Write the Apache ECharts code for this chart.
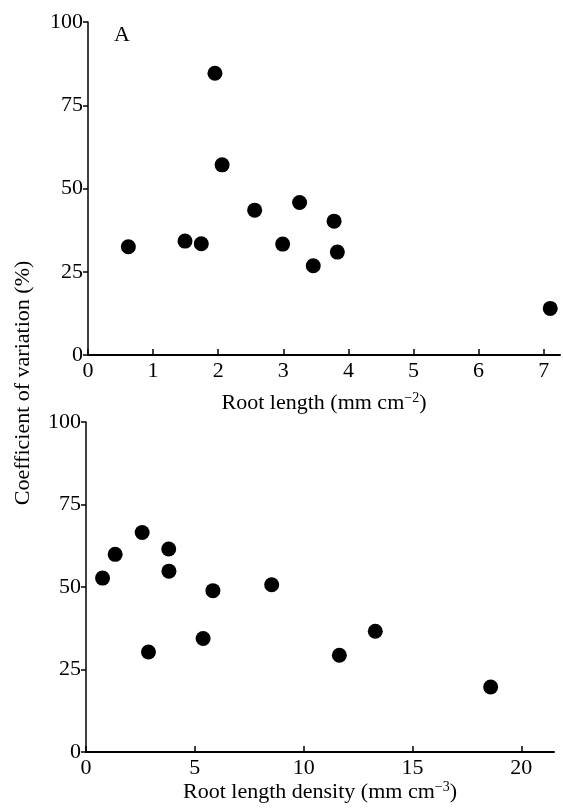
<!DOCTYPE html>
<html>
<head>
<meta charset="utf-8">
<script src="https://cdn.jsdelivr.net/npm/echarts@6/dist/echarts.min.js"></script>
<style>
  html, body { margin: 0; padding: 0; background: #fff; }
  #chart { width: 563px; height: 809px; }
</style>
</head>
<body>
<div id="chart"></div>
<script>
// panel A: root length (mm cm-2) vs coefficient of variation (%)
const rootLength = [0.62, 1.49, 1.74, 1.95, 2.06, 2.56, 2.99, 3.25, 3.46, 3.78, 3.83, 7.10]
const cvLength = [32.5, 34.2, 33.4, 84.6, 57.1, 43.5, 33.3, 45.8, 26.8, 40.2, 30.9, 14.0]

// panel B: root length density (mm cm-3) vs coefficient of variation (%)
const rootDensity = [0.76, 1.34, 2.58, 2.87, 3.80, 3.81, 5.38, 5.83, 8.53, 11.64, 13.29, 18.59]
const cvDensity = [52.7, 59.9, 66.5, 30.3, 61.5, 54.8, 34.4, 48.9, 50.7, 29.3, 36.6, 19.7]

const ticksA = [0, 1, 2, 3, 4, 5, 6, 7]
const ticksB = [0, 5, 10, 15, 20]
const ticksY = [0, 25, 50, 75, 100]

const font = 'Liberation Serif'
const ink = '#000'

const chart = echarts.init(document.getElementById('chart'))

const xAxisBase = (max, ticks, name, gap) => ({
    type: 'value',
    min: 0,
    max: max,
    name: name,
    nameLocation: 'middle',
    nameGap: gap,
    nameTextStyle: {
        color: ink,
        fontFamily: font,
        fontSize: 22,
        rich: {
            sup: { fontFamily: font, fontSize: 14, color: ink, padding: [0, 0, 11, 0] }
        }
    },
    axisLine: { lineStyle: { color: ink, width: 2 } },
    axisTick: { inside: true, length: 6, customValues: ticks, lineStyle: { color: ink, width: 1.5 } },
    axisLabel: { customValues: ticks, color: ink, fontFamily: font, fontSize: 22, margin: 5 },
    splitLine: { show: false }
})

const yAxisBase = () => ({
    type: 'value',
    min: 0,
    max: 100,
    interval: 25,
    axisLine: { show: true, lineStyle: { color: ink, width: 1.5 } },
    axisTick: { show: true, length: 5, customValues: ticksY, lineStyle: { color: ink, width: 1.5 } },
    axisLabel: { customValues: ticksY, color: ink, fontFamily: font, fontSize: 22, margin: 5 },
    splitLine: { show: false }
})

chart.setOption({
    backgroundColor: '#fff',
    animation: false,
    grid: [
        { left: 88, top: 22, right: 3, bottom: 454, containLabel: false },
        { left: 86, top: 422, right: 9, bottom: 57, containLabel: false }
    ],
    xAxis: [
        Object.assign(xAxisBase(7.25, ticksA, 'Root length (mm cm{sup|−2})', 36), { gridIndex: 0 }),
        Object.assign(xAxisBase(21.5, ticksB, 'Root length density (mm cm{sup|−3})', 28), { gridIndex: 1 })
    ],
    yAxis: [
        Object.assign(yAxisBase(), { gridIndex: 0 }),
        Object.assign(yAxisBase(), { gridIndex: 1 })
    ],
    graphic: [
        {
            type: 'text',
            left: 114,
            top: 24,
            style: { text: 'A', fill: ink, font: '22px "Liberation Serif"' }
        },
        {
            type: 'text',
            x: 23,
            y: 383,
            rotation: Math.PI / 2,
            style: {
                text: 'Coefficient of variation (%)',
                fill: ink,
                font: '22px "Liberation Serif"',
                align: 'center',
                verticalAlign: 'middle'
            }
        }
    ],
    series: [
        {
            type: 'scatter',
            xAxisIndex: 0,
            yAxisIndex: 0,
            symbolSize: 15,
            itemStyle: { color: ink, opacity: 1 },
            data: rootLength.map((x, i) => [x, cvLength[i]])
        },
        {
            type: 'scatter',
            xAxisIndex: 1,
            yAxisIndex: 1,
            symbolSize: 15,
            itemStyle: { color: ink, opacity: 1 },
            data: rootDensity.map((x, i) => [x, cvDensity[i]])
        }
    ]
})
</script>
</body>
</html>
